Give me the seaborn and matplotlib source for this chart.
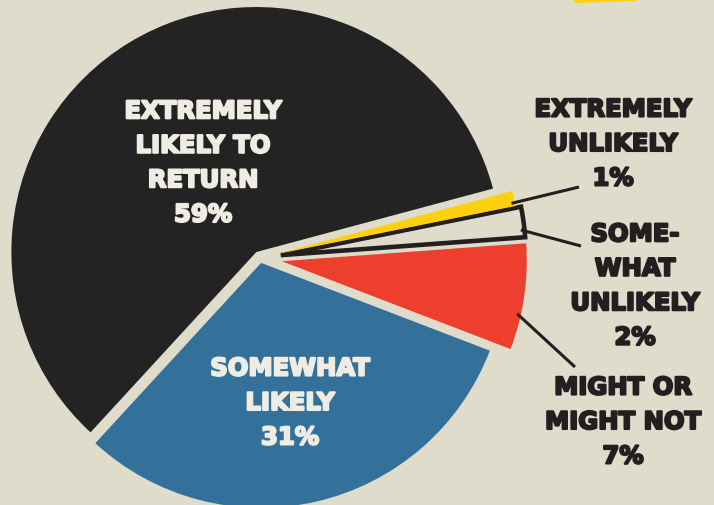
import matplotlib
matplotlib.use("Agg")
import matplotlib.pyplot as plt
import matplotlib.patheffects as pe
import numpy as np
import seaborn as sns

# Survey answers: how likely respondents are to return
categories = [
    "EXTREMELY\nLIKELY TO\nRETURN",
    "SOMEWHAT\nLIKELY",
    "MIGHT OR\nMIGHT NOT",
    "SOME-\nWHAT\nUNLIKELY",
    "EXTREMELY\nUNLIKELY",
]
shares = [59, 31, 7, 2, 1]

W, H = 714, 506
sns.set_theme(style="white")
plt.rcParams["font.family"] = ["DejaVu Sans"]

BG = "#DFDCCC"
INK = "#231F20"
CREAM = "#EFEDE3"
colors = ["#232323", "#33719A", "#EE3E2D", BG, "#FDD10F"]

fig = plt.figure(figsize=(W / 100, H / 100), dpi=100, facecolor=BG)
ax = fig.add_axes([0, 0, 1, 1])
ax.set_facecolor(BG)

# pie geometry in pixel units (y grows upward)
center = (260, H - 259)
radius = 245
explode = [7, 5, 22, 21, 16]

wedges, _ = ax.pie(
    shares,
    colors=colors,
    explode=explode,
    startangle=15.0,
    counterclock=True,
    radius=radius,
    center=center,
    wedgeprops=dict(linewidth=0),
)
# the 2% slice is drawn as an outline only
wedges[3].set_edgecolor(INK)
wedges[3].set_linewidth(3.3)
wedges[3].set_joinstyle("miter")

ax.set_xlim(0, W)
ax.set_ylim(0, H)
ax.set_aspect("equal")
ax.axis("off")


def heavy(color):
    # thicken the bold face so it reads like a black-weight display font
    return [pe.Stroke(linewidth=1.5, foreground=color), pe.Normal()]


text_kw = dict(fontsize=17.5, fontweight="bold", ha="center", va="center",
               linespacing=1.55)

# labels inside the two big slices
inside_pos = {0: (203, 164), 1: (290, 404)}
for i, (px, py) in inside_pos.items():
    ax.text(px, H - py, f"{categories[i]}\n{shares[i]}%", color=CREAM,
            path_effects=heavy(CREAM), **text_kw)

# labels outside the small slices, with leader lines
outside = {
    4: dict(text=(613, 145), end=(579, 188), angle=12.2),
    3: dict(text=(635, 287), end=(581, 247), angle=6.0),
    2: dict(text=(623, 423), end=(575, 368), angle=-12.6),
}
for i, spec in outside.items():
    w = wedges[i]
    cx, cy = w.center
    a = np.deg2rad(spec["angle"])
    r = w.r * 0.985
    x0, y0 = cx + r * np.cos(a), cy + r * np.sin(a)
    ex, ey = spec["end"]
    ax.plot([x0, ex], [y0, H - ey], color=INK, lw=2.2, solid_capstyle="butt")
    tx, ty = spec["text"]
    ax.text(tx, H - ty, f"{categories[i]}\n{shares[i]}%", color=INK,
            path_effects=heavy(INK), **text_kw)

# yellow accent peeking in at the top edge
ax.fill([573, 637, 636, 575], [H, H, H - 2, H - 4], color="#FDD10F", lw=0)

fig.savefig("out.png", dpi=100, facecolor=BG)
